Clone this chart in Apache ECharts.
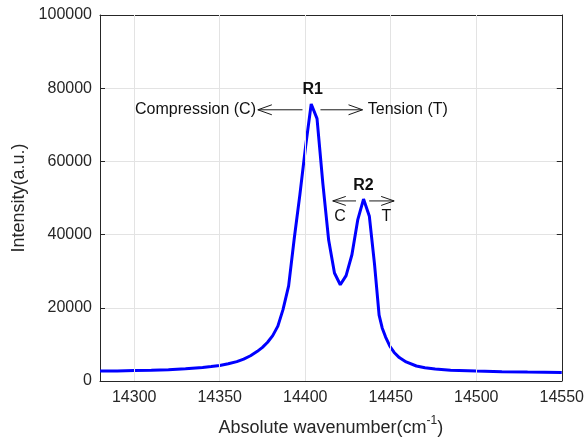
<!DOCTYPE html>
<html>
<head>
<meta charset="utf-8">
<script src="https://cdn.jsdelivr.net/npm/echarts@6/dist/echarts.min.js"></script>
<style>
html,body{margin:0;padding:0;background:#fff;}
#chart{width:587px;height:442px;}
</style>
</head>
<body>
<div id="chart"></div>
<script>
const wavenumber = [14280, 14290, 14300, 14310, 14320, 14330, 14340, 14345, 14350, 14355,
  14360, 14364, 14368, 14372, 14375, 14378, 14381, 14384, 14387, 14390.3,
  14393.6, 14396.9, 14400.2, 14403.5, 14406.9, 14410.3, 14413.7, 14417.1, 14420.5, 14423.9,
  14427.3, 14430.7, 14434.1, 14437.5, 14440.5, 14443.2, 14445, 14447, 14449.5, 14452,
  14455, 14459, 14465, 14470, 14476, 14485, 14500, 14515, 14530, 14550];
const intensity = [2700, 2750, 2850, 2950, 3100, 3350, 3700, 3950, 4250, 4700,
  5300, 6000, 6900, 8100, 9200, 10600, 12400, 15000, 19500, 26000,
  39000, 51000, 64000, 75700, 71700, 54000, 38500, 29500, 26300, 28800,
  34500, 44000, 49700, 45000, 32000, 18000, 14500, 12000, 9500, 7800,
  6400, 5200, 4100, 3600, 3300, 2950, 2700, 2550, 2450, 2350];
const xTickValues = [14300, 14350, 14400, 14450, 14500, 14550];

const axisColor = '#262626';
const gridColor = '#e3e3e3';
const chart = echarts.init(document.getElementById('chart'), null, {renderer: 'canvas'});

const points = wavenumber.map((x, i) => [x, intensity[i]]);
const plainNum = v => String(v);

const option = {
  animation: false,
  backgroundColor: '#fff',
  grid: {left: 100, right: 25, top: 15, bottom: 56, containLabel: false},
  xAxis: [{
    type: 'value', min: 14280, max: 14550, position: 'bottom',
    name: 'Absolute wavenumber(cm{sup|-1})',
    nameLocation: 'middle', nameGap: 34,
    nameTextStyle: {color: axisColor, fontSize: 18, fontFamily: 'Liberation Sans',
      rich: {sup: {fontSize: 12, color: axisColor, fontFamily: 'Liberation Sans', padding: [0,0,14,0]}}},
    axisLine: {show: true, onZero: false, lineStyle: {color: axisColor, width: 1}},
    axisTick: {show: true, inside: true, length: 5, customValues: xTickValues, lineStyle: {color: axisColor}},
    axisLabel: {customValues: xTickValues, formatter: plainNum, color: axisColor, fontSize: 16, fontFamily: 'Liberation Sans', margin: 9},
    splitLine: {show: false}
  }, {
    type: 'value', min: 14280, max: 14550, position: 'top',
    axisLine: {show: true, onZero: false, lineStyle: {color: axisColor, width: 1}},
    axisTick: {show: true, inside: true, length: 5, customValues: xTickValues, lineStyle: {color: axisColor}},
    axisLabel: {show: false},
    splitLine: {show: false}
  }],
  yAxis: [{
    type: 'value', min: 0, max: 100000, interval: 20000, position: 'left',
    name: 'Intensity(a.u.)', nameLocation: 'middle', nameGap: 72,
    nameTextStyle: {color: axisColor, fontSize: 18, fontFamily: 'Liberation Sans'},
    axisLine: {show: true, onZero: false, lineStyle: {color: axisColor, width: 1}},
    axisTick: {show: true, inside: true, length: 5, lineStyle: {color: axisColor}},
    axisLabel: {formatter: plainNum, color: axisColor, fontSize: 16, fontFamily: 'Liberation Sans', margin: 8},
    splitLine: {show: true, lineStyle: {color: gridColor, width: 1}}
  }, {
    type: 'value', min: 0, max: 100000, interval: 20000, position: 'right',
    axisLine: {show: true, onZero: false, lineStyle: {color: axisColor, width: 1}},
    axisTick: {show: true, inside: true, length: 5, lineStyle: {color: axisColor}},
    axisLabel: {show: false},
    splitLine: {show: false}
  }],
  series: [{
    type: 'line', data: [], z: 1, silent: true,
    markLine: {
      silent: true, symbol: ['none', 'none'], label: {show: false},
      lineStyle: {color: gridColor, width: 1, type: 'solid'},
      data: xTickValues.slice(0, -1).map(v => ({xAxis: v}))
    }
  }, {
    type: 'line', data: points, z: 3,
    showSymbol: false, smooth: false,
    lineStyle: {color: '#0000ff', width: 3},
    itemStyle: {color: '#0000ff'}
  }]
};
chart.setOption(option);

// annotations placed in data coordinates
function px(x, y) { return chart.convertToPixel({gridIndex: 0}, [x, y]); }
function arrow(x0, x1, y, hw, hh) {
  const a = px(x0, y), b = px(x1, y);
  const dir = b[0] > a[0] ? 1 : -1;
  return [{
    type: 'line', shape: {x1: a[0], y1: a[1], x2: b[0], y2: b[1]},
    style: {stroke: '#1a1a1a', lineWidth: 1}, z: 10
  }, {
    type: 'polyline', shape: {points: [[b[0] - dir * hw, b[1] - hh], [b[0], b[1]], [b[0] - dir * hw, b[1] + hh]]},
    style: {stroke: '#1a1a1a', lineWidth: 1, fill: null}, z: 10
  }];
}
function label(x, y, text, align, bold, size) {
  const p = px(x, y);
  return {
    type: 'text', x: p[0], y: p[1], z: 10,
    style: {text: text, align: align, verticalAlign: 'middle', fill: '#111',
      font: (bold ? 'bold ' : '') + size + 'px "Liberation Sans", Arial, sans-serif'}
  };
}
const g = [].concat(
  [label(14404.4, 79600, 'R1', 'center', true, 16)],
  arrow(14398.4, 14372.3, 74100, 14, 5),
  arrow(14408.9, 14433.5, 74100, 14, 5),
  [label(14371.2, 74100, 'Compression (C)', 'right', false, 16)],
  [label(14436.6, 74100, 'Tension (T)', 'left', false, 16)],
  [label(14434.1, 53400, 'R2', 'center', true, 16)],
  arrow(14429.7, 14416.1, 49200, 13, 4.5),
  arrow(14437.4, 14452, 49200, 13, 4.5),
  [label(14420.4, 44900, 'C', 'center', false, 16)],
  [label(14447.5, 44900, 'T', 'center', false, 16)]
);
chart.setOption({graphic: g});
</script>
</body>
</html>
